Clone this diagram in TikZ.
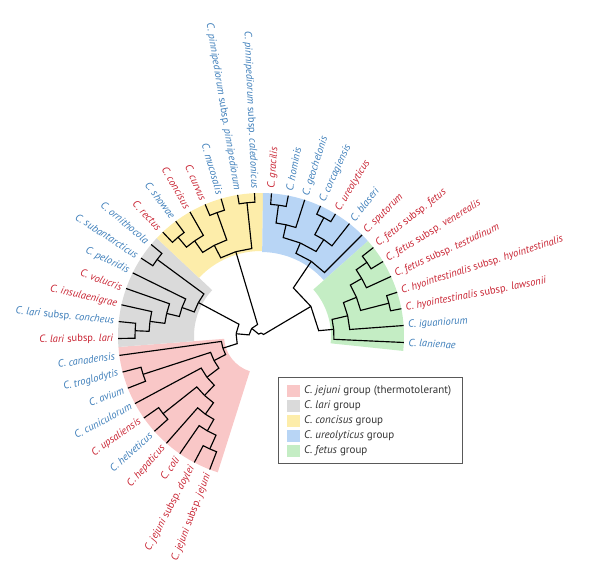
\documentclass[tikz,border=0pt]{standalone}
\usepackage{fontspec}
\setmainfont{PT Sans}
\usepackage{xcolor}
\usepackage{tikz}
\usetikzlibrary{calc}

\definecolor{rojo}{RGB}{200,35,50}
\definecolor{azul}{RGB}{60,125,185}
\definecolor{rosa}{RGB}{249,199,199}
\definecolor{gris}{RGB}{218,218,218}
\definecolor{amarillo}{RGB}{253,237,170}
\definecolor{celeste}{RGB}{184,213,245}
\definecolor{verde}{RGB}{196,237,196}

\begin{document}
\begin{tikzpicture}[x=1pt, y=1pt,
    rama/.style={line width=1.15pt},
    hoja/.style={font=\fontsize{10.5}{12}\selectfont, inner sep=0.5pt},
    leyenda/.style={font=\fontsize{11}{13}\selectfont, text=black!80, inner sep=1pt, anchor=west},
    caja/.style={draw=black!65, line width=0.6pt}]
    \useasboundingbox (-261,-229) rectangle (339,336);

    % Sectores de color de cada grupo
    \fill[rosa] (252.4:37pt) arc[start angle=252.4, end angle=184.4, radius=37pt] -- (184.4:143pt) arc[start angle=184.4, end angle=252.4, radius=143pt] -- cycle; % C. jejuni
    \fill[gris] (184.4:67pt) arc[start angle=184.4, end angle=136.8, radius=67pt] -- (136.8:143pt) arc[start angle=136.8, end angle=184.4, radius=143pt] -- cycle; % C. lari
    \fill[amarillo] (136.8:85pt) arc[start angle=136.8, end angle=89.2, radius=85pt] -- (89.2:143pt) arc[start angle=89.2, end angle=136.8, radius=143pt] -- cycle; % C. concisus
    \fill[celeste] (89.2:84pt) arc[start angle=89.2, end angle=41.6, radius=84pt] -- (41.6:143pt) arc[start angle=41.6, end angle=89.2, radius=143pt] -- cycle; % C. ureolyticus
    \fill[verde] (41.6:70pt) arc[start angle=41.6, end angle=-6, radius=70pt] -- (-6:143pt) arc[start angle=-6, end angle=41.6, radius=143pt] -- cycle; % C. fetus

    % Puntas y nombres de las especies
    \foreach \i/\col/\txt in {
        0/rojo/{\textit{C. jejuni} subsp. \textit{jejuni}},
        1/rojo/{\textit{C. jejuni} subsp. \textit{doylei}},
        2/rojo/{\textit{C. coli}},
        3/rojo/{\textit{C. hepaticus}},
        4/azul/{\textit{C. helveticus}},
        5/rojo/{\textit{C. upsaliensis}},
        6/azul/{\textit{C. cuniculorum}},
        7/azul/{\textit{C. avium}},
        8/azul/{\textit{C. troglodytis}},
        9/azul/{\textit{C. canadensis}},
        10/rojo/{\textit{C. lari} subsp. \textit{lari}},
        11/azul/{\textit{C. lari} subsp. \textit{concheus}},
        12/rojo/{\textit{C. insulaenigrae}},
        13/rojo/{\textit{C. volucris}},
        14/azul/{\textit{C. peloridis}},
        15/azul/{\textit{C. subantarcticus}},
        16/azul/{\textit{C. ornithocola}},
        17/rojo/{\textit{C. rectus}},
        18/azul/{\textit{C. showae}},
        19/rojo/{\textit{C. concisus}},
        20/rojo/{\textit{C. curvus}},
        21/azul/{\textit{C. mucosalis}},
        22/azul/{\textit{C. pinnipediorum} subsp. \textit{pinnipediorum}},
        23/azul/{\textit{C. pinnipediorum} subsp. \textit{caledonicus}},
        24/rojo/{\textit{C. gracilis}},
        25/azul/{\textit{C. hominis}},
        26/azul/{\textit{C. geochelonis}},
        27/azul/{\textit{C. corcagiensis}},
        28/rojo/{\textit{C. ureolyticus}},
        29/azul/{\textit{C. blaseri}},
        30/rojo/{\textit{C. sputorum}},
        31/rojo/{\textit{C. fetus} subsp. \textit{fetus}},
        32/rojo/{\textit{C. fetus} subsp. \textit{venerealis}},
        33/rojo/{\textit{C. fetus} subsp. \textit{testudinum}},
        34/rojo/{\textit{C. hyointestinalis} subsp. \textit{hyointestinalis}},
        35/rojo/{\textit{C. hyointestinalis} subsp. \textit{lawsonii}},
        36/azul/{\textit{C. iguaniorum}},
        37/azul/{\textit{C. lanienae}}} {
        \pgfmathsetmacro{\ang}{249-6.8*\i}
        \coordinate (t\i) at (\ang:143);
        \ifdim \ang pt > 90pt
            \node[hoja, text=\col, rotate=\ang+180, anchor=east] (h\i) at (\ang:147) {\txt};
        \else
            \node[hoja, text=\col, rotate=\ang, anchor=west] (h\i) at (\ang:147) {\txt};
        \fi
    }

    % Nodos internos (angulo:radio)
    \coordinate (raiz) at (85.69:3);
    \coordinate (nN)   at (140.72:12);
    \coordinate (nGP)  at (174.82:25);
    \coordinate (nM)   at (30.66:58);
    % grupo jejuni
    \coordinate (jA)  at (197.74:40);
    \coordinate (jB)  at (207.66:53);
    \coordinate (jTA) at (198.01:124);
    \coordinate (jC)  at (217.33:68);
    \coordinate (jD)  at (226.48:82);
    \coordinate (jUH) at (218.41:125);
    \coordinate (jE)  at (234.55:96);
    \coordinate (jF)  at (240.50:109);
    \coordinate (jG)  at (245.61:124);
    % grupo lari
    \coordinate (lR)  at (151.88:71);
    \coordinate (lP)  at (160.17:84);
    \coordinate (lV)  at (166.55:97);
    \coordinate (lI)  at (172.50:112);
    \coordinate (lLC) at (177.60:126);
    \coordinate (lSO) at (143.60:129);
    % grupo concisus
    \coordinate (cR)  at (106.63:88);
    \coordinate (cX)  at (117.25:102);
    \coordinate (cY)  at (124.90:116);
    \coordinate (cRS) at (130.00:129);
    \coordinate (cCM) at (109.61:131);
    \coordinate (cPC) at (96.00:134);
    % grupo ureolyticus
    \coordinate (uR)  at (56.05:90);
    \coordinate (uQ)  at (67.10:101);
    \coordinate (uA)  at (77.30:114);
    \coordinate (uGH) at (82.40:132);
    \coordinate (uB)  at (56.90:115);
    \coordinate (uCU) at (62.01:134);
    % grupo fetus
    \coordinate (fR)  at (5.26:73);
    \coordinate (fI)  at (13.12:89);
    \coordinate (fH)  at (22.05:103);
    \coordinate (fT)  at (29.70:116);
    \coordinate (fFV) at (34.81:129);
    \coordinate (fHL) at (14.40:132);

    % Ramas: del padre al angulo del hijo y luego hacia afuera
    \foreach \padre/\hijo in {raiz/nN, raiz/nM, nN/cR, nN/nGP, nGP/lR, nGP/jA, nM/uR, nM/fR,
        jA/t9, jA/jB, jB/jTA, jB/jC, jTA/t7, jTA/t8, jC/t6, jC/jD, jD/jUH, jD/jE,
        jUH/t4, jUH/t5, jE/t3, jE/jF, jF/t2, jF/jG, jG/t0, jG/t1,
        lR/lP, lR/lSO, lSO/t15, lSO/t16, lP/t14, lP/lV, lV/t13, lV/lI, lI/t12, lI/lLC, lLC/t10, lLC/t11,
        cR/cX, cR/cPC, cPC/t22, cPC/t23, cX/cY, cX/cCM, cCM/t20, cCM/t21, cY/t19, cY/cRS, cRS/t17, cRS/t18,
        uR/uQ, uR/t30, uQ/uA, uQ/uB, uA/uGH, uA/t26, uGH/t24, uGH/t25, uB/uCU, uB/t29, uCU/t27, uCU/t28,
        fR/fI, fR/t37, fI/fH, fI/t36, fH/fT, fH/fHL, fHL/t34, fHL/t35, fT/fFV, fT/t33, fFV/t31, fFV/t32}
        \draw[rama] let \p1=(\padre), \p2=(\hijo), \n1={atan2(\y2,\x2)}, \n2={veclen(\x1,\y1)}
            in (\padre) -- (\n1:\n2) -- (\hijo);

    % Leyenda
    \draw[caja] (17,-41) rectangle (201,-127);
    \foreach \col/\txt [count=\k] in {rosa/{\textit{C. jejuni} group (thermotolerant)},
        gris/{\textit{C. lari} group}, amarillo/{\textit{C. concisus} group},
        celeste/{\textit{C. ureolyticus} group}, verde/{\textit{C. fetus} group}} {
        \fill[\col] (26,-34-15*\k) rectangle (39,-46-15*\k);
        \node[leyenda] (ley\k) at (42,-40-15*\k) {\txt};
    }
\end{tikzpicture}
\end{document}
